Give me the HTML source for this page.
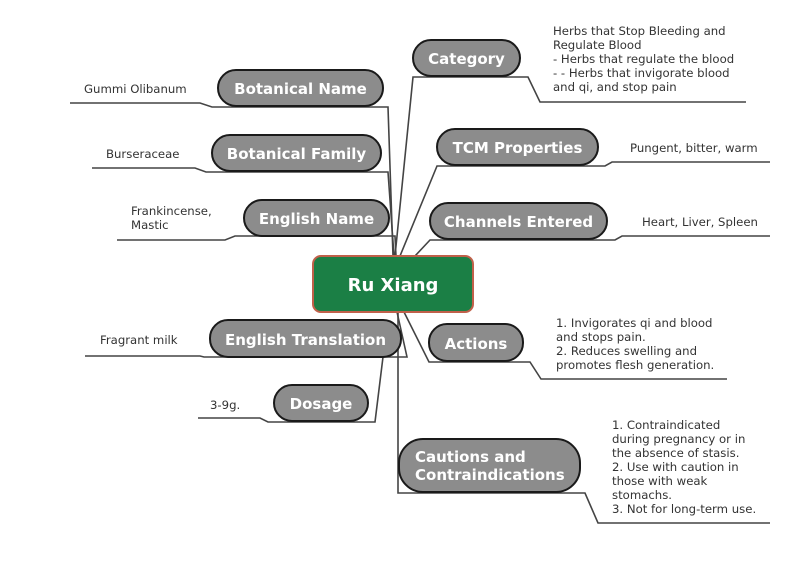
<!DOCTYPE html>
<html><head><meta charset="utf-8"><style>
html,body{margin:0;padding:0;background:#fff;}
svg{display:block;}
.p{fill:#8c8c8c;stroke:#1a1a1a;stroke-width:2;}
.t{font-family:"DejaVu Sans","Liberation Sans",sans-serif;font-weight:bold;font-size:15px;fill:#fff;text-anchor:middle;}
.l{font-family:"DejaVu Sans","Liberation Sans",sans-serif;font-size:11.7px;fill:#333;}
.c{fill:none;stroke:#444;stroke-width:1.6;}
</style></head><body>
<svg width="787" height="568" viewBox="0 0 787 568" xmlns="http://www.w3.org/2000/svg">
<g class="c">
<path d="M70 103 H200 L212 107 H388 L393 256"/>
<path d="M92 168 H195 L206 172 H388 L394 256"/>
<path d="M117 240 H225 L235 236 H395 L396 256"/>
<path d="M85 356 H200 L204 357 H407 L397 312"/>
<path d="M198 418 H260 L268 422 H375 L383 357"/>
<path d="M746 102 H540 L528 77 H413 L395 256"/>
<path d="M770 162 H612 L605 166 H437 L400 256"/>
<path d="M770 236 H622 L615 240 H430 L415 256"/>
<path d="M727 379 H541 L530 362 H429 L404 312"/>
<path d="M770 523 H598 L585 493 H398 V312"/>
</g>
<rect x="313" y="256" width="160" height="56" rx="8" fill="#1b7f45" stroke="#c0604a" stroke-width="2"/>
<text x="393" y="291" class="t" style="font-size:18px">Ru Xiang</text>
<rect class="p" x="218" y="70" width="165" height="36" rx="18"/><text class="t" x="300.5" y="94">Botanical Name</text>
<rect class="p" x="212" y="135" width="169" height="36" rx="18"/><text class="t" x="296.5" y="159">Botanical Family</text>
<rect class="p" x="244" y="200" width="145" height="36" rx="18"/><text class="t" x="316.5" y="224">English Name</text>
<rect class="p" x="210" y="320" width="191" height="37" rx="18"/><text class="t" x="305.5" y="345">English Translation</text>
<rect class="p" x="274" y="385" width="94" height="36" rx="18"/><text class="t" x="321" y="409">Dosage</text>
<rect class="p" x="413" y="40" width="107" height="36" rx="18"/><text class="t" x="466.5" y="64">Category</text>
<rect class="p" x="437" y="129" width="161" height="36" rx="18"/><text class="t" x="517.5" y="153">TCM Properties</text>
<rect class="p" x="430" y="203" width="177" height="36" rx="18"/><text class="t" x="518.5" y="227">Channels Entered</text>
<rect class="p" x="429" y="324" width="94" height="37" rx="18"/><text class="t" x="476" y="349">Actions</text>
<rect class="p" x="399" y="439" width="181" height="53" rx="24"/>
<text class="t" x="415" y="462" style="text-anchor:start">Cautions and</text>
<text class="t" x="415" y="480" style="text-anchor:start">Contraindications</text>
<text class="l" x="84" y="93">Gummi Olibanum</text>
<text class="l" x="106" y="158">Burseraceae</text>
<text class="l" x="131" y="215">Frankincense,</text>
<text class="l" x="131" y="229">Mastic</text>
<text class="l" x="100" y="344">Fragrant milk</text>
<text class="l" x="210" y="409">3-9g.</text>
<text class="l" x="553" y="35">Herbs that Stop Bleeding and</text>
<text class="l" x="553" y="49">Regulate Blood</text>
<text class="l" x="553" y="63">- Herbs that regulate the blood</text>
<text class="l" x="553" y="77">- - Herbs that invigorate blood</text>
<text class="l" x="553" y="91">and qi, and stop pain</text>
<text class="l" x="630" y="152">Pungent, bitter, warm</text>
<text class="l" x="642" y="226">Heart, Liver, Spleen</text>
<text class="l" x="556" y="327">1. Invigorates qi and blood</text>
<text class="l" x="556" y="341">and stops pain.</text>
<text class="l" x="556" y="355">2. Reduces swelling and</text>
<text class="l" x="556" y="369">promotes flesh generation.</text>
<text class="l" x="612" y="429">1. Contraindicated</text>
<text class="l" x="612" y="443">during pregnancy or in</text>
<text class="l" x="612" y="457">the absence of stasis.</text>
<text class="l" x="612" y="471">2. Use with caution in</text>
<text class="l" x="612" y="485">those with weak</text>
<text class="l" x="612" y="499">stomachs.</text>
<text class="l" x="612" y="513">3. Not for long-term use.</text>
</svg>
</body></html>
